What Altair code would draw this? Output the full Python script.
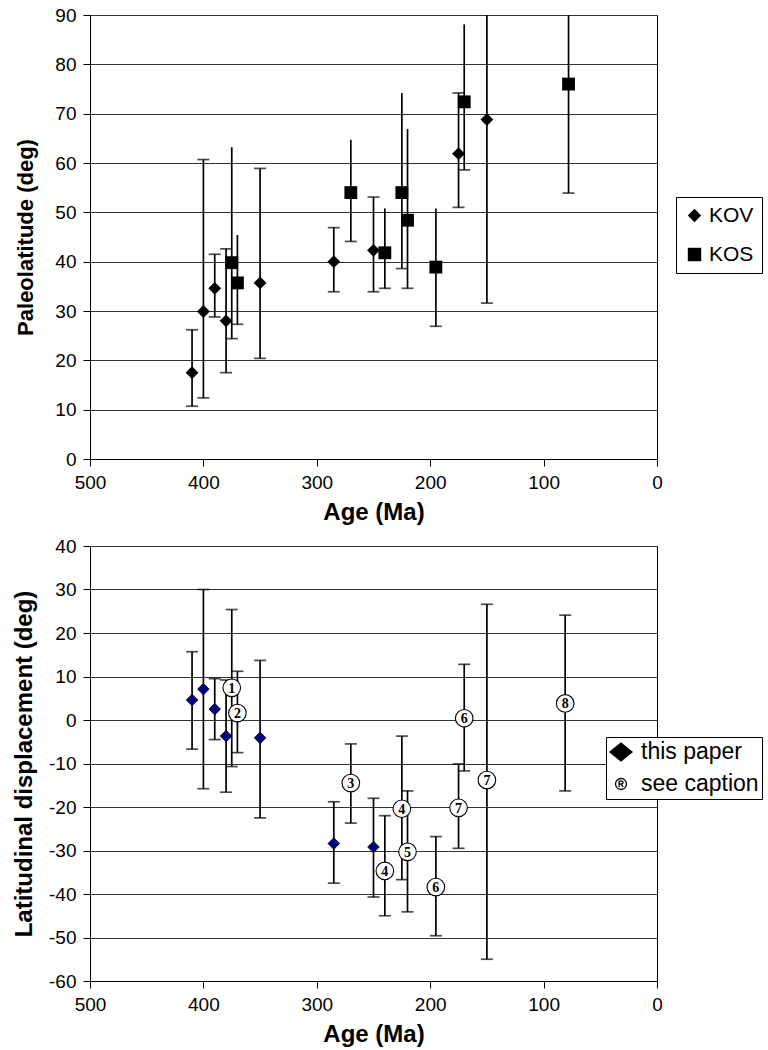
import altair as alt
import pandas as pd

# ---------------- top panel: paleolatitude ----------------
kov_age = [410, 400, 390, 380, 350, 285, 250, 175, 150]
kov_lat = [17.5, 29.9, 34.6, 28.0, 35.7, 40.0, 42.3, 61.9, 68.8]
kov_hi = [26.2, 60.7, 41.5, 42.6, 58.9, 46.9, 53.1, 74.2, 100.0]
kov_lo = [10.7, 12.4, 28.8, 17.5, 20.4, 33.9, 33.9, 51.0, 31.6]

kos_age = [375, 370, 270, 240, 225, 220, 195, 170, 78]
kos_lat = [39.8, 35.7, 54.0, 41.8, 54.0, 48.4, 38.9, 72.4, 76.0]
kos_hi = [63.2, 45.4, 64.7, 50.8, 74.2, 66.9, 50.8, 88.1, 100.0]
kos_lo = [24.4, 27.3, 44.1, 34.6, 38.6, 34.6, 26.9, 58.6, 53.9]

# ---------------- bottom panel: latitudinal displacement ----------------
tp_age = [410, 400, 390, 380, 350, 285, 250]
tp_disp = [4.6, 7.1, 2.5, -3.7, -4.1, -28.4, -29.2]
tp_hi = [15.7, 30.0, 9.5, 9.2, 13.7, -18.8, -18.0]
tp_lo = [-6.7, -15.8, -4.5, -16.6, -22.5, -37.5, -40.7]

sc_num = ["1", "2", "3", "4", "4", "5", "6", "6", "7", "7", "8"]
sc_age = [375, 370, 270, 240, 225, 220, 195, 170, 175, 150, 81]
sc_disp = [7.4, 1.6, -14.5, -34.7, -20.4, -30.3, -38.4, 0.4, -20.2, -13.8, 3.8]
sc_hi = [25.4, 11.2, -5.5, -22.0, -3.7, -16.3, -26.8, 12.8, -10.1, 26.6, 24.1]
sc_lo = [-10.7, -7.5, -23.7, -45.0, -36.7, -44.1, -49.6, -11.7, -29.5, -55.0, -16.3]

age_ticks = [500, 400, 300, 200, 100, 0]
lat_ticks = list(range(0, 91, 10))
disp_ticks = list(range(-60, 41, 10))

FONT = "Liberation Sans"
BAR_W = 1.7

# ---------- data frames ----------
top_df = pd.DataFrame({
    "age": kov_age + kos_age,
    "val": kov_lat + kos_lat,
    "hi": kov_hi + kos_hi,
    "lo": kov_lo + kos_lo,
    "series": ["KOV"] * len(kov_age) + ["KOS"] * len(kos_age),
})
top_caps = pd.DataFrame({
    "age": kov_age + kov_age + kos_age,
    "cap": kov_lo + kov_hi + kos_lo,
})

bot_df = pd.DataFrame({
    "age": tp_age + sc_age,
    "val": tp_disp + sc_disp,
    "hi": tp_hi + sc_hi,
    "lo": tp_lo + sc_lo,
    "group": ["this paper"] * len(tp_age) + ["see caption"] * len(sc_age),
    "num": [""] * len(tp_age) + sc_num,
})
bot_caps = pd.DataFrame({
    "age": tp_age + sc_age + tp_age + sc_age,
    "cap": tp_lo + sc_lo + tp_hi + sc_hi,
})
tp_df = bot_df[bot_df.group == "this paper"]
sc_df = bot_df[bot_df.group == "see caption"]


def xenc():
    return alt.X(
        "age:Q",
        scale=alt.Scale(domain=[0, 500], reverse=True, nice=False),
        axis=alt.Axis(values=age_ticks, title="Age (Ma)", grid=False,
                      labelFlush=False, labelPadding=7, titlePadding=8,
                      titleFontSize=24),
    )


def yenc(field, domain, ticks, title, title_x, title_size):
    return alt.Y(
        field + ":Q",
        scale=alt.Scale(domain=domain, nice=False, zero=False, clamp=True),
        axis=alt.Axis(values=ticks, title=title, grid=True, labelPadding=7,
                      labelFlush=False, labelExpr="datum.value + ''",
                      titleX=title_x, titleBaseline="middle",
                      titleFontSize=title_size),
    )


# ---------- top chart ----------
TY = lambda f: yenc(f, [0, 90], lat_ticks, "Paleolatitude (deg)", -65, 22)

top_rules = alt.Chart(top_df).mark_rule(color="black", strokeWidth=BAR_W).encode(
    x=xenc(), y=TY("lo"), y2="hi"
)
top_capmarks = alt.Chart(top_caps).transform_filter(
    alt.datum.cap <= 90
).mark_tick(
    orient="horizontal", size=12, thickness=BAR_W, color="black"
).encode(x=xenc(), y=TY("cap"))
top_pts = alt.Chart(top_df).mark_point(filled=True, opacity=1, size=165, color="black").encode(
    x=xenc(), y=TY("val"),
    shape=alt.Shape(
        "series:N",
        scale=alt.Scale(domain=["KOV", "KOS"], range=["diamond", "square"]),
        legend=alt.Legend(
            title=None, orient="none", legendX=586, legendY=182,
            strokeColor="black", fillColor="white", padding=8,
            labelFont=FONT, labelFontSize=21, labelColor="black",
            symbolSize=180, symbolFillColor="black", symbolStrokeColor="black",
            symbolStrokeWidth=0, rowPadding=17, labelOffset=4,
        ),
    ),
)
top_chart = alt.layer(top_rules, top_capmarks, top_pts).properties(width=567, height=444)

# ---------- bottom chart ----------
BY = lambda f: yenc(f, [-60, 40], disp_ticks, "Latitudinal displacement (deg)", -66, 24)

diamond_path = "M-1,0L0,-0.8L1,0L0,0.8Z"
circled_r_path = (
    "M-0.5,0A0.5,0.5,0,1,1,0.5,0A0.5,0.5,0,1,1,-0.5,0Z"
    "M-0.17,0.27L-0.17,-0.27L0.05,-0.27A0.135,0.135,0,0,1,0.05,0L-0.17,0"
    "M0.0,0L0.19,0.27"
)
groups = ["this paper", "see caption"]
bot_legend = alt.Legend(
    title=None, orient="none", legendX=516, legendY=191,
    strokeColor="black", fillColor="white", padding=3,
    labelFont=FONT, labelFontSize=23, labelColor="black",
    symbolSize=484, symbolStrokeWidth=1.3,
    symbolOpacity=1, rowPadding=8, labelOffset=8,
)

bot_rules = alt.Chart(bot_df).mark_rule(color="black", strokeWidth=BAR_W).encode(
    x=xenc(), y=BY("lo"), y2="hi"
)
bot_capmarks = alt.Chart(bot_caps).mark_tick(
    orient="horizontal", size=12, thickness=BAR_W, color="black"
).encode(x=xenc(), y=BY("cap"))
tp_pts = alt.Chart(tp_df).mark_point(
    shape="diamond", filled=True, fill="#000080", stroke="black", strokeWidth=0.8,
    size=135, opacity=1
).encode(x=xenc(), y=BY("val"))
sc_pts = alt.Chart(sc_df).mark_point(
    shape="circle", filled=True, fill="white", stroke="black", strokeWidth=1.1,
    size=310, opacity=1
).encode(x=xenc(), y=BY("val"))
sc_txt = alt.Chart(sc_df).mark_text(
    font="Liberation Serif", fontWeight="bold", fontSize=14, color="black",
    baseline="middle", align="center", dy=1
).encode(x=xenc(), y=BY("val"), text="num:N")
legend_layer = alt.Chart(bot_df).mark_point(
    filled=True, opacity=0, strokeWidth=1.3
).encode(
    x=xenc(), y=BY("val"),
    shape=alt.Shape(
        "group:N",
        scale=alt.Scale(domain=groups, range=[diamond_path, circled_r_path]),
        legend=bot_legend,
    ),
    fill=alt.Fill(
        "group:N",
        scale=alt.Scale(domain=groups, range=["black", "white"]),
        legend=bot_legend,
    ),
    stroke=alt.Stroke(
        "group:N",
        scale=alt.Scale(domain=groups, range=["black", "black"]),
        legend=bot_legend,
    ),
)
bot_chart = alt.layer(
    bot_rules, bot_capmarks, tp_pts, sc_pts, sc_txt, legend_layer
).properties(width=567, height=435)

chart = alt.vconcat(top_chart, bot_chart, spacing=87, bounds="flush").resolve_scale(
    shape="independent", fill="independent", stroke="independent",
    x="independent", y="independent"
).resolve_legend(
    shape="independent", fill="independent", stroke="independent"
).properties(
    padding={"left": 11, "top": 5, "right": 0, "bottom": 0},
    background="white",
).configure_view(
    stroke="black", strokeWidth=1
).configure_axis(
    labelFont=FONT, labelFontSize=19, labelColor="black",
    titleFont=FONT, titleFontSize=22, titleFontWeight="bold", titleColor="black",
    domainColor="black", domainWidth=1, tickColor="black", tickSize=7, tickWidth=1,
    gridColor="#333333", gridWidth=1,
)

chart.save("out.html", embed_options={"renderer": "svg", "actions": False})
